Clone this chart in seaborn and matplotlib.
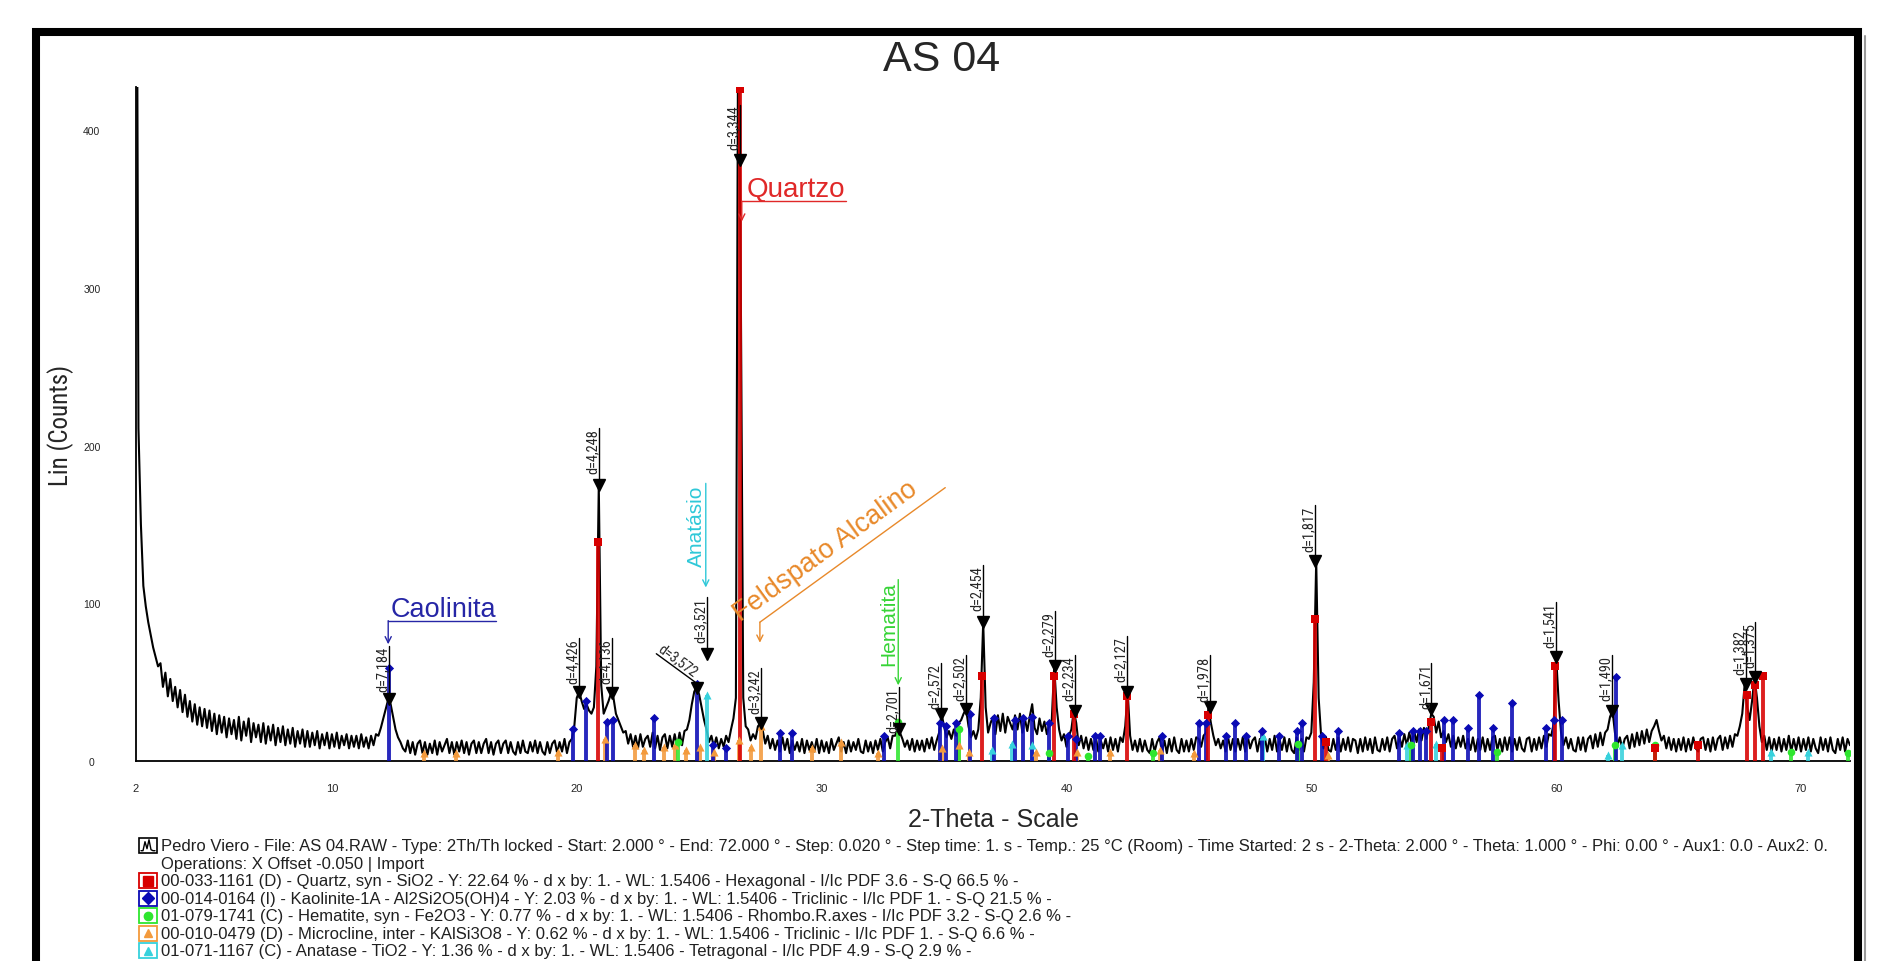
import numpy as np
import pandas as pd
import seaborn as sns
import matplotlib
matplotlib.use("Agg")
import matplotlib.pyplot as plt
from matplotlib import font_manager
from matplotlib.patches import Rectangle
from matplotlib.lines import Line2D

W, H = 1879, 962

# Diffractogram: counts every 0.1 deg 2-theta, 2.0 ... 72.0
two_theta_start = 2.0
two_theta_step = 0.1
counts = [
    700, 211, 150, 111, 98, 88, 80, 72, 66, 60,      # 2
    62, 47, 56, 41, 52, 38, 47, 34, 45, 31,          # 3
    42, 28, 38, 25, 36, 23, 34, 22, 33, 21,          # 4
    32, 19, 30, 17, 29, 18, 28, 15, 27, 17,          # 5
    26, 14, 28, 13, 25, 16, 27, 12, 24, 15,          # 6
    23, 12, 24, 11, 22, 13, 23, 10, 21, 12,          # 7
    22, 10, 20, 11, 21, 9, 19, 11, 20, 9,            # 8
    19, 9, 18, 10, 19, 8, 17, 10, 18, 8,             # 9
    17, 9, 18, 8, 16, 10, 17, 8, 16, 9,              # 10
    16, 8, 17, 9, 15, 8, 16, 10, 17, 16,             # 11
    21, 27, 33, 39, 36, 28, 20, 15, 12, 8,           # 12
    6, 13, 5, 12, 4, 11, 13, 5, 12, 4,               # 13
    11, 5, 13, 4, 12, 6, 10, 14, 5, 12,              # 14
    4, 12, 6, 13, 5, 12, 4, 11, 13, 5,               # 15
    12, 5, 11, 14, 5, 12, 4, 11, 13, 5,              # 16
    11, 13, 5, 12, 6, 4, 12, 5, 13, 6,               # 17
    5, 12, 6, 13, 5, 12, 6, 4, 12, 5,                # 18
    11, 13, 5, 12, 6, 14, 5, 12, 14, 22,             # 19
    40, 44, 38, 33, 36, 32, 30, 34, 60, 175,         # 20
    48, 30, 34, 38, 43, 40, 30, 26, 22, 18,          # 21
    19, 11, 17, 9, 16, 8, 17, 9, 14, 16,             # 22
    9, 18, 8, 16, 7, 15, 17, 8, 16, 9,               # 23
    17, 9, 18, 10, 19, 20, 26, 36, 44, 47,           # 24
    42, 34, 26, 20, 12, 16, 9, 15, 8, 14,            # 25
    9, 16, 12, 20, 27, 40, 520, 300, 40, 22,         # 26
    20, 13, 17, 14, 22, 24, 19, 11, 16, 8,           # 27
    14, 7, 13, 6, 15, 7, 14, 5, 13, 7,               # 28
    12, 6, 14, 5, 13, 7, 12, 6, 14, 5,               # 29
    13, 6, 12, 5, 14, 7, 11, 15, 6, 12,              # 30
    5, 13, 6, 12, 7, 14, 6, 5, 13, 6,                # 31
    12, 5, 13, 7, 14, 6, 12, 15, 8, 16,              # 32
    16, 20, 18, 14, 9, 13, 7, 14, 6, 13,             # 33
    7, 13, 6, 14, 8, 15, 7, 13, 18, 30,              # 34
    22, 15, 19, 14, 20, 16, 24, 26, 30, 33,          # 35
    22, 15, 19, 14, 20, 40, 88, 34, 18, 24,          # 36
    28, 17, 29, 19, 30, 18, 28, 24, 20, 29,          # 37
    20, 30, 18, 27, 19, 28, 36, 21, 17, 27,          # 38
    19, 25, 17, 23, 26, 60, 34, 20, 13, 17,          # 39
    9, 16, 20, 32, 24, 10, 16, 8, 15, 7,             # 40
    14, 7, 15, 6, 13, 8, 14, 6, 15, 7,               # 41
    14, 6, 15, 12, 22, 44, 16, 7, 13, 6,             # 42
    14, 6, 13, 7, 5, 14, 6, 12, 15, 6,               # 43
    13, 5, 14, 6, 15, 7, 5, 14, 6, 13,               # 44
    6, 14, 7, 15, 14, 9, 16, 18, 34, 24,             # 45
    16, 10, 14, 8, 13, 6, 15, 7, 14, 6,              # 46
    14, 7, 15, 6, 16, 8, 13, 15, 6, 14,              # 47
    7, 15, 6, 14, 7, 16, 6, 14, 7, 15,               # 48
    6, 14, 7, 5, 15, 7, 14, 6, 15, 14,               # 49
    18, 50, 127, 40, 16, 8, 15, 7, 6, 14,            # 50
    7, 15, 6, 14, 7, 15, 6, 14, 13, 5,               # 51
    14, 6, 15, 7, 14, 5, 15, 7, 6, 14,               # 52
    7, 15, 6, 14, 16, 8, 15, 9, 17, 10,              # 53
    18, 11, 19, 12, 20, 13, 21, 14, 22, 30,          # 54
    28, 18, 25, 15, 19, 12, 17, 9, 16, 8,            # 55
    15, 9, 16, 8, 14, 7, 15, 6, 14, 7,               # 56
    15, 6, 14, 7, 15, 16, 7, 14, 6, 15,              # 57
    7, 15, 6, 14, 7, 15, 8, 6, 14, 15,               # 58
    6, 14, 7, 15, 8, 16, 9, 17, 16, 24,              # 59
    66, 38, 18, 10, 15, 8, 14, 7, 6, 15,             # 60
    7, 15, 6, 14, 16, 8, 17, 9, 18, 10,              # 61
    18, 20, 28, 32, 18, 10, 15, 8, 14, 16,           # 62
    8, 17, 9, 18, 10, 19, 11, 20, 12, 19,            # 63
    22, 26, 19, 13, 16, 8, 15, 7, 14, 6,             # 64
    14, 7, 15, 6, 14, 7, 15, 8, 6, 14,               # 65
    15, 7, 14, 6, 15, 7, 14, 16, 7, 15,              # 66
    8, 16, 9, 17, 16, 22, 30, 49, 34, 26,            # 67
    38, 53, 40, 22, 12, 16, 7, 15, 6, 14,            # 68
    7, 15, 6, 14, 7, 16, 6, 14, 7, 15,               # 69
    6, 14, 7, 15, 6, 14, 8, 5, 15, 7,                # 70
    14, 6, 15, 7, 5, 14, 7, 15, 6, 14,               # 71
    10,                                              # 72
]

# Reference cards (stick positions and heights)
quartz_2theta = [20.86, 26.66, 36.55, 39.48, 40.30, 42.46, 45.80, 50.15, 50.62,
                 54.88, 55.35, 59.97, 64.05, 65.80, 67.78, 68.14, 68.45]
quartz_counts = [139, 426, 54, 54, 30, 41, 29, 90, 12, 25, 8, 60, 8, 10, 42, 48, 54]

kaolinite_2theta = [12.35, 19.86, 20.38, 21.25, 21.48, 23.14, 24.90, 25.55, 26.10, 28.32,
                    28.80, 32.55, 34.84, 35.09, 35.50, 36.05, 37.04, 37.88, 38.22, 38.60,
                    39.30, 40.05, 40.40, 41.15, 41.35, 43.90, 45.43, 45.70, 46.50, 46.88,
                    47.33, 47.98, 48.69, 49.43, 49.64, 50.45, 51.08, 53.60, 54.15, 54.45,
                    54.70, 55.40, 55.80, 56.40, 56.84, 57.40, 58.20, 59.60, 59.90, 60.24,
                    62.43]
kaolinite_counts = [59, 20, 38, 25, 26, 27, 49, 10, 8, 18,
                    18, 16, 24, 22, 24, 30, 27, 26, 27, 28,
                    24, 16, 14, 16, 16, 16, 24, 24, 16, 24,
                    16, 19, 16, 19, 24, 16, 19, 18, 19, 19,
                    19, 26, 26, 21, 42, 21, 37, 21, 26, 26,
                    53]

hematite_2theta = [24.15, 33.12, 35.62, 39.28, 40.86, 43.52, 49.45, 54.09, 57.60,
                   62.42, 64.02, 69.60, 71.90]
hematite_counts = [12, 25, 20, 5, 3, 5, 11, 10, 6, 10, 10, 6, 5]

microcline_2theta = [13.75, 15.05, 19.25, 21.15, 22.37, 22.75, 23.55, 24.02, 24.48, 25.02,
                     25.60, 26.62, 27.10, 27.52, 29.60, 30.80, 32.30, 34.92, 35.60, 36.00,
                     38.75, 40.45, 41.76, 43.80, 45.20, 50.70]
microcline_counts = [5, 5, 6, 14, 10, 7, 9, 10, 7, 9,
                     6, 13, 9, 22, 8, 12, 5, 8, 10, 6,
                     6, 6, 6, 7, 5, 4]

anatase_2theta = [25.30, 36.95, 37.78, 38.58, 48.04, 53.90, 55.08, 62.10, 62.68, 68.76, 70.30]
anatase_counts = [42, 7, 11, 10, 16, 10, 11, 4, 10, 6, 6]

# d-spacing markers: position, peak (triangle), top of marker line, label
d_2theta = [12.32, 20.08, 20.90, 21.45, 25.30, 26.66, 27.52, 33.15, 34.87, 35.88,
            36.60, 39.52, 40.35, 42.47, 45.85, 50.16, 54.90, 59.99, 62.27, 67.74,
            68.14]
d_peak = [39, 44, 175, 43, 68, 381, 24, 20, 30, 33,
          88, 60, 32, 44, 34, 127, 33, 66, 32, 49,
          53]
d_top = [73, 78, 211, 78, 104, 416, 59, 47, 62, 67,
         124, 95, 67, 79, 67, 162, 62, 101, 67, 84,
         88]
d_labels = ["d=7,184", "d=4,426", "d=4,248", "d=4,136", "d=3,521", "d=3,344", "d=3,242",
            "d=2,701", "d=2,572", "d=2,502", "d=2,454", "d=2,279", "d=2,234", "d=2,127",
            "d=1,978", "d=1,817", "d=1,671", "d=1,541", "d=1,490", "d=1,382", "d=1,375"]

pedro_line = ("Pedro Viero - File: AS 04.RAW - Type: 2Th/Th locked - Start: 2.000 \u00b0 - "
              "End: 72.000 \u00b0 - Step: 0.020 \u00b0 - Step time: 1. s - Temp.: 25 \u00b0C (Room) - "
              "Time Started: 2 s - 2-Theta: 2.000 \u00b0 - Theta: 1.000 \u00b0 - Phi: 0.00 \u00b0 - "
              "Aux1: 0.0 - Aux2: 0.")
operations_line = "Operations: X Offset -0.050 | Import"
phase_lines = [
    "00-033-1161 (D) - Quartz, syn - SiO2 - Y: 22.64 % - d x by: 1. - WL: 1.5406 - Hexagonal - I/Ic PDF 3.6 - S-Q 66.5 % -",
    "00-014-0164 (I) - Kaolinite-1A - Al2Si2O5(OH)4 - Y: 2.03 % - d x by: 1. - WL: 1.5406 - Triclinic - I/Ic PDF 1. - S-Q 21.5 % -",
    "01-079-1741 (C) - Hematite, syn - Fe2O3 - Y: 0.77 % - d x by: 1. - WL: 1.5406 - Rhombo.R.axes - I/Ic PDF 3.2 - S-Q 2.6 % -",
    "00-010-0479 (D) - Microcline, inter - KAlSi3O8 - Y: 0.62 % - d x by: 1. - WL: 1.5406 - Triclinic - I/Ic PDF 1. - S-Q 6.6 % -",
    "01-071-1167 (C) - Anatase - TiO2 - Y: 1.36 % - d x by: 1. - WL: 1.5406 - Tetragonal - I/Ic PDF 4.9 - S-Q 2.9 % -",
]

RED = "#d80000"
BLUE = "#0a0ab4"
GREEN = "#2ee62e"
ORANGE = "#f39a3c"
CYAN = "#36d1dc"


def fx(px):
    return px / W


def fy(py):
    return 1 - py / H


sns.set_style("white")
plt.rcParams["font.family"] = ["Liberation Sans", "DejaVu Sans"]

names = {f.name for f in font_manager.fontManager.ttflist}
narrow = next((n for n in ["Liberation Sans Narrow", "Arial Narrow", "Roboto Condensed"]
               if n in names), None)
if narrow:
    d_font, d_size = [narrow, "DejaVu Sans"], 10.4
    ylab_font, ylab_size = [narrow, "DejaVu Sans"], 18
else:
    d_font, d_size = ["Liberation Sans", "DejaVu Sans"], 8.5
    ylab_font, ylab_size = ["Liberation Sans", "DejaVu Sans"], 15.5

fig = plt.figure(figsize=(W / 100, H / 100), dpi=100)
ax = fig.add_axes([fx(136), fy(762), (1850 - 136) / W, (762 - 88) / H])

# measured pattern
two_theta = two_theta_start + two_theta_step * np.arange(len(counts))
df = pd.DataFrame({"two_theta": two_theta, "counts": counts})
sns.lineplot(data=df, x="two_theta", y="counts", ax=ax, color="black",
             linewidth=1.5, estimator=None, sort=False, zorder=2)


def draw_phase(pos, heights, color, marker, size):
    ax.vlines(pos, 0, heights, colors=color, lw=2.8, alpha=0.88, zorder=3)
    ax.scatter(pos, heights, marker=marker, s=size, color=color, linewidths=0, zorder=4)


draw_phase(microcline_2theta, microcline_counts, ORANGE, "^", 34)
draw_phase(anatase_2theta, anatase_counts, CYAN, "^", 34)
draw_phase(hematite_2theta, hematite_counts, GREEN, "o", 30)
draw_phase(kaolinite_2theta, kaolinite_counts, BLUE, "D", 22)
draw_phase(quartz_2theta, quartz_counts, RED, "s", 28)

# d-spacing markers
for x, yp, yt, lab in zip(d_2theta, d_peak, d_top, d_labels):
    ax.plot([x, x], [yp, yt], color="black", lw=1.0, zorder=5)
    ax.plot([x], [yp], marker="v", color="black", ms=8, zorder=6)
    ax.annotate(lab, xy=(x, yt), xytext=(-1.5, 0), textcoords="offset points",
                rotation=90, rotation_mode="anchor", ha="right", va="baseline",
                fontsize=d_size, family=d_font, zorder=6)

# slanted d=3,572 marker
ax.plot([23.25, 24.88], [68, 49.5], color="black", lw=1.0, zorder=5)
ax.plot([24.91], [46], marker="v", color="black", ms=8, zorder=6)
ax.text(23.3, 70.5, "d=3,572", rotation=-36.5, rotation_mode="anchor", ha="left",
        va="baseline", fontsize=d_size, family=d_font, zorder=6)

# phase names
arrow_kw = dict(arrowstyle="->", lw=1.0, mutation_scale=11, shrinkA=0, shrinkB=0)

ax.text(26.94, 358.5, "Quartzo", color="#e02828", fontsize=20, ha="left", va="baseline")
ax.plot([26.74, 30.98], [355, 355], color="#e02828", lw=1.0)
ax.annotate("", xy=(26.74, 342), xytext=(26.74, 355), arrowprops=dict(color="#e02828", **arrow_kw))

ax.text(12.38, 92, "Caolinita", color="#2626a6", fontsize=19.5, ha="left", va="baseline")
ax.plot([12.30, 16.70], [89, 89], color="#2626a6", lw=1.0)
ax.annotate("", xy=(12.30, 74), xytext=(12.30, 89), arrowprops=dict(color="#2626a6", **arrow_kw))

ax.annotate("Anat\u00e1sio", xy=(25.27, 175), xytext=(-3, 0), textcoords="offset points",
            rotation=90, rotation_mode="anchor", ha="right", va="baseline",
            color="#2ec8d8", fontsize=15)
ax.annotate("", xy=(25.27, 110), xytext=(25.27, 176), arrowprops=dict(color="#2ec8d8", **arrow_kw))

ax.annotate("Hematita", xy=(33.13, 114), xytext=(-3, 0), textcoords="offset points",
            rotation=90, rotation_mode="anchor", ha="right", va="baseline",
            color="#36d436", fontsize=15)
ax.annotate("", xy=(33.13, 48), xytext=(33.13, 115), arrowprops=dict(color="#36d436", **arrow_kw))

ax.text(26.7, 88.5, "Feldspato Alcalino", color="#e8892a", fontsize=19.5, rotation=36,
        rotation_mode="anchor", ha="left", va="baseline")
ax.plot([27.48, 35.05], [88, 173.3], color="#e8892a", lw=1.0)
ax.annotate("", xy=(27.48, 75), xytext=(27.48, 88), arrowprops=dict(color="#e8892a", **arrow_kw))

# axes styling
ax.set_xlim(2, 72)
ax.set_ylim(0, 427.3)
ax.set_xticks([2, 5, 10, 15, 20, 25, 30, 35, 40, 45, 50, 55, 60, 65, 70])
ax.set_xticklabels(["2", "", "10", "", "20", "", "30", "", "40", "", "50", "", "60", "", "70"])
ax.set_xticks(np.arange(3, 72, 1), minor=True)
ax.set_yticks([0, 100, 200, 300, 400])
ax.set_yticks(np.arange(10, 427, 10), minor=True)
ax.tick_params(axis="x", which="major", direction="out", length=8, width=1.1, pad=8,
               labelsize=8, color="black")
ax.tick_params(axis="x", which="minor", direction="out", length=3.6, width=1.0, color="black")
ax.tick_params(axis="y", which="major", direction="out", length=10.8, width=1.1, pad=21,
               labelsize=7.5, color="black")
ax.tick_params(axis="y", which="minor", direction="out", length=6.5, width=1.0, color="black")
for lbl in ax.get_yticklabels():
    lbl.set_ha("center")
sns.despine(ax=ax)
for side in ["left", "bottom"]:
    ax.spines[side].set_color("black")
    ax.spines[side].set_linewidth(1.3)

ax.set_xlabel("2-Theta - Scale", fontsize=18)
ax.xaxis.set_label_coords(0.5, -0.068)
ax.set_ylabel("Lin (Counts)", fontsize=ylab_size, family=ylab_font)
ax.yaxis.set_label_coords(-0.036, 0.5)

fig.text(fx(942), fy(60), "AS 04", ha="center", va="center", fontsize=31)

# frame around the picture
fig.add_artist(Rectangle((fx(36), -0.05), fx(1858) - fx(36), fy(33) + 0.05,
                         transform=fig.transFigure, fill=False, lw=5.8, edgecolor="black"))
fig.add_artist(Line2D([fx(1865), fx(1865)], [0, fy(37)], transform=fig.transFigure,
                      color="#9a9a9a", lw=1.5))

# bottom legend
row_y = [846.7, 864.2, 881.7, 899.2, 916.7, 934.2, 951.7]
texts = [pedro_line, operations_line] + phase_lines
text_objs = [fig.text(fx(161), fy(yy), s, fontsize=9, ha="left", va="center", color="#202020")
             for s, yy in zip(texts, row_y)]
renderer = fig.canvas.get_renderer()
scale = 1669 / text_objs[0].get_window_extent(renderer=renderer).width
for t in text_objs:
    t.set_fontsize(9 * scale)

yy = row_y[0]
fig.add_artist(Rectangle((fx(139), fy(yy + 7.5)), 18 / W, 15 / H, transform=fig.transFigure,
                         facecolor="white", edgecolor="black", lw=1.2))
wave_x = [141, 143, 145, 147, 149, 151, 153, 155]
wave_y = [5, 5, -4, 3, -6, 4, 5, 5]
fig.add_artist(Line2D([fx(v) for v in wave_x], [fy(yy + v) for v in wave_y],
                      transform=fig.transFigure, color="black", lw=1.0))

icons = [(RED, "s"), (BLUE, "D"), (GREEN, "o"), (ORANGE, "^"), (CYAN, "^")]
for (color, marker), yy in zip(icons, row_y[2:]):
    fig.add_artist(Rectangle((fx(139), fy(yy + 7.5)), 18 / W, 15 / H, transform=fig.transFigure,
                             facecolor="white", edgecolor=color, lw=1.3))
    fig.add_artist(Line2D([fx(148)], [fy(yy)], marker=marker, ms=7 if marker == "s" else 6,
                          color=color, transform=fig.transFigure))

fig.savefig("out.png", dpi=100)
